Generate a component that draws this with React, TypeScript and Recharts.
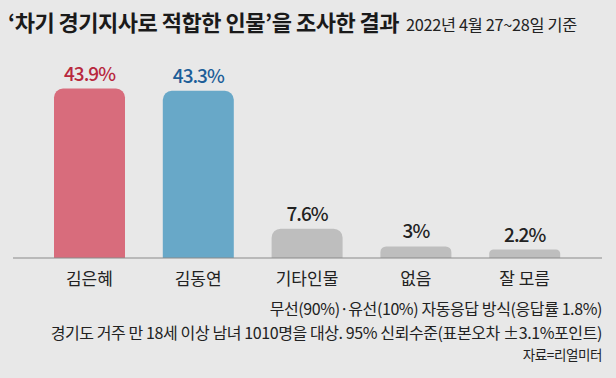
import { BarChart, Bar, XAxis, YAxis, Cell, LabelList } from 'recharts';

const categories = ['김은혜', '김동연', '기타인물', '없음', '잘 모름'];
const values = [43.9, 43.3, 7.6, 3, 2.2];
const barColors = ['#d86c7c', '#68a8c8', '#bebebe', '#bebebe', '#bebebe'];
const labelColors = ['#b8283e', '#1d5e98', '#222222', '#222222', '#222222'];

const notes = [
  '무선(90%)·유선(10%) 자동응답 방식(응답률 1.8%)',
  '경기도 거주 만 18세 이상 남녀 1010명을 대상. 95% 신뢰수준(표본오차 ±3.1%포인트)',
];
const source = '자료=리얼미터';

const data = categories.map((name, i) => ({ name, value: values[i] }));

const FONT = '"Noto Sans CJK KR", "Noto Sans", sans-serif';

function ValueLabel(props: any) {
  const { x, y, width, value, index } = props;
  return (
    <text
      x={x + width / 2}
      y={y - 8}
      textAnchor="middle"
      fontSize={19}
      fontWeight={500}
      fontFamily={FONT}
      fill={labelColors[index]}
      letterSpacing={-1}
    >
      {value}%
    </text>
  );
}

export default function App() {
  return (
    <div style={styles.page}>
      <div style={styles.titleRow}>
        <span style={styles.title}>‘차기 경기지사로 적합한 인물’을 조사한 결과</span>
        <span style={styles.subtitle}>2022년 4월 27~28일 기준</span>
      </div>
      <div style={styles.chart}>
        <BarChart
          width={616}
          height={300}
          data={data}
          margin={{ top: 65, right: 14, bottom: 0, left: 13 }}
        >
          <YAxis hide domain={[0, 50]} />
          <XAxis
            dataKey="name"
            axisLine={{ stroke: '#8a8a8a', strokeWidth: 1 }}
            tickLine={false}
            padding={{ left: 22, right: 23 }}
            tick={{ fill: '#222', fontSize: 17, fontFamily: FONT }}
            tickMargin={9}
            height={42}
          />
          <Bar dataKey="value" barSize={71} radius={[9, 9, 0, 0]} isAnimationActive={false}>
            {data.map((d, i) => (
              <Cell key={d.name} fill={barColors[i]} />
            ))}
            <LabelList dataKey="value" content={ValueLabel} />
          </Bar>
        </BarChart>
      </div>
      <div style={{ ...styles.note, top: 297 }}>{notes[0]}</div>
      <div style={{ ...styles.note, top: 321 }}>{notes[1]}</div>
      <div style={{ ...styles.note, ...styles.source }}>{source}</div>
    </div>
  );
}

const styles: Record<string, React.CSSProperties> = {
  page: {
    position: 'absolute',
    left: 0,
    top: 0,
    width: 616,
    height: 378,
    background: '#e8e8e8',
    fontFamily: FONT,
    overflow: 'hidden',
  },
  titleRow: {
    position: 'absolute',
    left: 8,
    top: 5,
    whiteSpace: 'nowrap',
  },
  title: {
    fontSize: 22,
    fontWeight: 700,
    color: '#1a1a1a',
    letterSpacing: -0.5,
  },
  subtitle: {
    fontSize: 16.3,
    color: '#222',
    marginLeft: 7,
    letterSpacing: -0.3,
  },
  chart: {
    position: 'absolute',
    left: 0,
    top: 0,
  },
  note: {
    position: 'absolute',
    right: 14,
    fontSize: 16,
    color: '#222',
    whiteSpace: 'nowrap',
    letterSpacing: -0.4,
    lineHeight: '22px',
  },
  source: {
    top: 343,
    fontSize: 13.5,
  },
};
